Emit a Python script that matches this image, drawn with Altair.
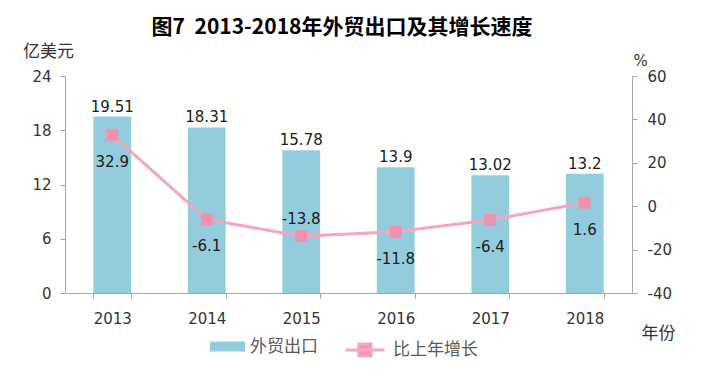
import altair as alt
import pandas as pd

years = ["2013", "2014", "2015", "2016", "2017", "2018"]
exports = [19.51, 18.31, 15.78, 13.9, 13.02, 13.2]
growth = [32.9, -6.1, -13.8, -11.8, -6.4, 1.6]
export_labels = ["19.51", "18.31", "15.78", "13.9", "13.02", "13.2"]
growth_labels = ["32.9", "-6.1", "-13.8", "-11.8", "-6.4", "1.6"]
series_bar = "外贸出口"
series_line = "比上年增长"
title_text = "图7\u00a0\u00a02013-2018年外贸出口及其增长速度"

df = pd.DataFrame({
    "year": years,
    "exports": exports,
    "growth": growth,
    "elabel": export_labels,
    "glabel": growth_labels,
    "s1": series_bar,
    "s2": series_line,
})

NUMFONT = "DejaVu Sans"
CJK = "Noto Sans CJK SC"
AXIS_GRAY = "#A6A6A6"
LABEL_COL = "#333333"

x_enc = alt.X(
    "year:N",
    sort=years,
    scale=alt.Scale(paddingInner=0.6, paddingOuter=0.3),
    axis=alt.Axis(
        title="年份", titleAngle=0, titleX=593, titleY=40,
        titleFont=CJK, titleFontSize=17, titleFontWeight="normal", titleColor=LABEL_COL,
        titleAlign="center", titleBaseline="middle",
        labelAngle=0, labelFont=NUMFONT, labelFontSize=15, labelColor=LABEL_COL,
        labelPadding=13, tickBand="extent", tickSize=5, tickColor=AXIS_GRAY,
        domainColor=AXIS_GRAY, grid=False,
    ),
)

y_left = alt.Y(
    "exports:Q",
    scale=alt.Scale(domain=[0, 24]),
    axis=alt.Axis(
        values=[0, 6, 12, 18, 24], title="亿美元", titleAngle=0, titleX=-17, titleY=-25,
        titleFont=CJK, titleFontSize=17, titleFontWeight="normal", titleColor=LABEL_COL,
        titleAlign="center", titleBaseline="middle",
        labelFont=NUMFONT, labelFontSize=15, labelColor=LABEL_COL, labelPadding=9,
        tickSize=5, tickColor=AXIS_GRAY, domainColor=AXIS_GRAY, grid=False,
    ),
)

y_right = alt.Y(
    "growth:Q",
    scale=alt.Scale(domain=[-40, 60]),
    axis=alt.Axis(
        orient="right", values=[-40, -20, 0, 20, 40, 60], title="%", titleAngle=0,
        titleX=8, titleY=-16, titleFont=NUMFONT, titleFontSize=15, titleFontWeight="normal",
        titleColor=LABEL_COL, titleAlign="center", titleBaseline="middle",
        labelExpr="'' + datum.value",
        labelFont=NUMFONT, labelFontSize=15, labelColor=LABEL_COL, labelPadding=10,
        tickSize=5, tickColor=AXIS_GRAY, domainColor=AXIS_GRAY, grid=False,
    ),
)

base = alt.Chart(df)

bars = base.mark_bar().encode(
    x=x_enc,
    y=y_left,
    color=alt.Color(
        "s1:N",
        scale=alt.Scale(domain=[series_bar], range=["#93CDDD"]),
        legend=alt.Legend(
            orient="none", legendX=145, legendY=253, title=None,
            symbolType="M-1,-0.286H1V0.286H-1Z", symbolSize=1225,
            symbolStrokeWidth=0, labelOffset=5,
            labelFont=CJK, labelFontSize=17, labelColor="#595959",
        ),
    ),
)

bar_text = base.mark_text(
    font=NUMFONT, fontSize=15, color="#1A1A1A", baseline="alphabetic", dy=-5
).encode(x=x_enc, y=y_left, text="elabel:N")

line = base.mark_line(strokeWidth=3).encode(
    x=x_enc,
    y=y_right,
    color=alt.Color(
        "s2:N",
        scale=alt.Scale(domain=[series_line], range=["#F4A6BD"]),
        legend=alt.Legend(
            orient="none", legendX=279, legendY=253, title=None,
            symbolType="M-1,0H1M-0.31,-0.31H0.31V0.31H-0.31Z", symbolSize=1521,
            symbolStrokeWidth=3, symbolFillColor="#F291AE", labelOffset=7,
            labelFont=CJK, labelFontSize=17, labelColor="#595959",
        ),
    ),
)

points = base.mark_square(size=144, color="#F291AE", opacity=1, filled=True).encode(
    x=x_enc, y=y_right
)

line_text_below = base.transform_joinaggregate(
    gmin="min(growth)"
).transform_filter("datum.growth > datum.gmin").mark_text(
    font=NUMFONT, fontSize=15, color="#1A1A1A", baseline="middle", dy=27
).encode(x=x_enc, y=y_right, text="glabel:N")

line_text_above = base.transform_joinaggregate(
    gmin="min(growth)"
).transform_filter("datum.growth == datum.gmin").mark_text(
    font=NUMFONT, fontSize=15, color="#1A1A1A", baseline="middle", dy=-17
).encode(x=x_enc, y=y_right, text="glabel:N")

title_layer = alt.Chart(pd.DataFrame({"t": [title_text]})).mark_text(
    font=CJK, fontSize=21, fontWeight="bold", color="#000000",
    align="center", baseline="middle",
).encode(text="t:N", x=alt.value(277), y=alt.value(-48))

left_group = alt.layer(bars, bar_text)
right_group = alt.layer(line, points, line_text_below, line_text_above)

chart = alt.layer(left_group, right_group, title_layer).resolve_scale(
    y="independent", color="independent"
).properties(
    width=567,
    height=217,
    padding={"left": 57, "top": 68, "right": 65, "bottom": 69},
    autosize=alt.AutoSizeParams(type="none"),
    background="white",
).configure_view(stroke=None)

chart.save("out.html", embed_options={"renderer": "svg", "actions": False})
